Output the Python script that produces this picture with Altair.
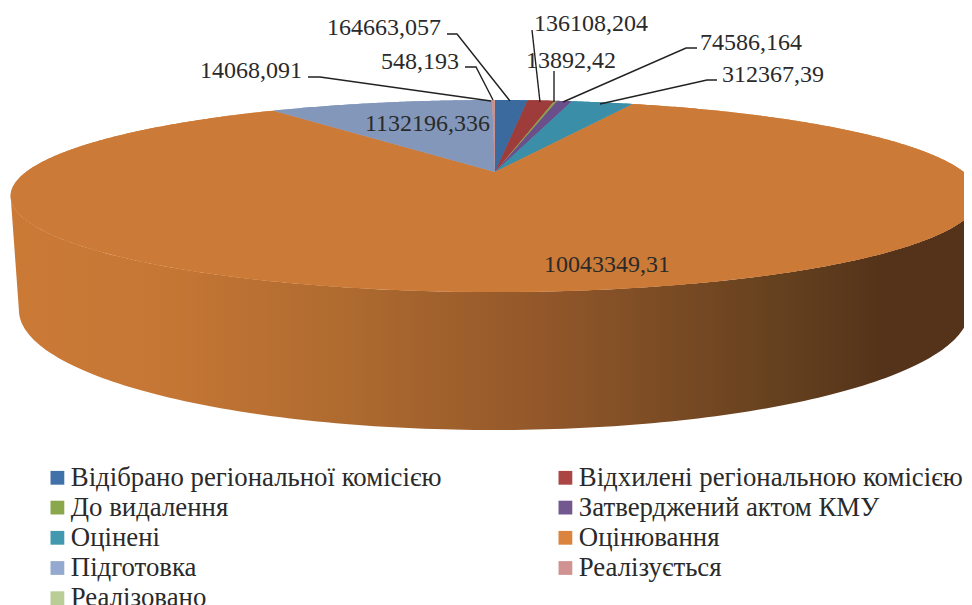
import math
import altair as alt

categories = ["Відібрано регіональної комісією", "Відхилені регіональною комісією", "До видалення",
              "Затверджений актом КМУ", "Оцінені", "Оцінювання", "Підготовка", "Реалізується", "Реалізовано"]
values = [164663.057, 136108.204, 13892.42, 74586.164, 312367.39, 10043349.31, 1132196.336, 14068.091, 548.193]
value_labels = ["164663,057", "136108,204", "13892,42", "74586,164", "312367,39", "10043349,31",
                "1132196,336", "14068,091", "548,193"]
legend_colors = ["#4071a8", "#aa4644", "#8aa84b", "#71588f", "#4198af", "#db843d", "#93a9cf", "#d19392", "#b9cd96"]
top_colors = ["#3a6a9e", "#9d3c3a", "#8aa24a", "#6b4f8a", "#3a8ea8", "#cb7a37", "#8397bb", "#cf8c8c", "#b8cf93"]

# layout of the labels (page pixels): anchor x, centre y, alignment; leader elbows
label_x = [441, 534, 526, 700, 722, 544, 365, 302, 459]
label_y = [28, 24, 61, 43, 75, 265, 124, 71, 62]
label_align = ["right", "left", "left", "left", "left", "left", "left", "right", "right"]
leader_paths = [[(447, 34), (457, 34), (510, 101)], [(532, 30), (540, 102)], [(554, 71), (554, 102)],
                [(697, 48), (686, 48), (563, 102)], [(717, 80), (707, 80), (600, 104)], None, None,
                [(308, 77), (320, 77), (491, 101)], [(465, 67), (476, 67), (493, 100)]]

OX, OY = 8, 8
P = 0.25


def rim(theta, cx, cy, a, b):
    d = 1 + P * math.cos(theta)
    return [cx + b * math.sin(theta) / d - OX, cy - a * math.cos(theta) / d - OY]


def top(theta):
    return rim(theta, 495, 172, 90, 469)


def bottom(theta):
    return rim(theta, 494, 280, 112.5, 460)


total = sum(values)
slices, start = [], 0.0
for name, v in zip(categories, values):
    t0 = start / total * 2 * math.pi
    start += v
    t1 = start / total * 2 * math.pi
    n = max(2, int((t1 - t0) * 120))
    ring = [[495 - OX, 172 - OY]] + [top(t0 + (t1 - t0) * i / n) for i in range(n + 1)] + [[495 - OX, 172 - OY]]
    slices.append({"type": "Feature", "properties": {"name": name}, "geometry": {"type": "Polygon", "coordinates": [ring]}})

te = math.acos(-P)
steps = 160
front = [te + (2 * math.pi - 2 * te) * i / steps for i in range(steps + 1)]
wall_ring = [top(t) for t in front] + [bottom(t) for t in reversed(front)]
wall_ring.append(wall_ring[0])
wall = [{"type": "Feature", "properties": {"name": "wall"}, "geometry": {"type": "Polygon", "coordinates": [wall_ring]}}]

leaders = [{"type": "Feature", "properties": {"name": c},
            "geometry": {"type": "LineString", "coordinates": [[x - OX, y - OY] for x, y in p]}}
           for c, p in zip(categories, leader_paths) if p]


def geo(features):
    return alt.Data(values={"type": "FeatureCollection", "features": features},
                    format=alt.DataFormat(type="json", property="features"))


proj = dict(type="identity", scale=1, translate=[0, 0])
FONT = "Liberation Serif"

wall_layer = alt.Chart(geo(wall)).mark_geoshape(
    strokeWidth=0,
    fill=alt.LinearGradient(gradient="linear", x1=0, x2=1, y1=0, y2=0, stops=[
        alt.GradientStop(offset=0, color="#cb7a36"), alt.GradientStop(offset=0.15, color="#c67735"),
        alt.GradientStop(offset=0.35, color="#ae6a2f"), alt.GradientStop(offset=0.55, color="#92572a"),
        alt.GradientStop(offset=0.8, color="#64401e"), alt.GradientStop(offset=0.9, color="#54331a"),
        alt.GradientStop(offset=1, color="#54331a")])
).project(**proj)

legend_layer = alt.Chart(geo(slices)).mark_geoshape(strokeWidth=0).encode(
    color=alt.Color("properties.name:N",
                    scale=alt.Scale(domain=categories, range=legend_colors),
                    sort=categories,
                    legend=alt.Legend(title=None, orient="none", legendX=36, legendY=456, columns=2,
                                      direction="horizontal",
                                      symbolType="square", symbolSize=190, symbolStrokeWidth=0,
                                      labelFont=FONT, labelFontSize=26.8, labelColor="#2a2a2a",
                                      labelLimit=500, labelOffset=0, rowPadding=2.2, columnPadding=110,
                                      padding=0, symbolOpacity=1))
).project(**proj)

top_layer = alt.Chart(geo(slices)).mark_geoshape(strokeWidth=0).encode(
    fill=alt.Fill("properties.name:N", scale=alt.Scale(domain=categories, range=top_colors), legend=None)
).project(**proj)

leader_layer = alt.Chart(geo(leaders)).mark_geoshape(filled=False, stroke="#222222", strokeWidth=1.4).project(**proj)

label_rows = [{"label": l, "px": x - OX, "py": y - OY, "al": a}
              for l, x, y, a in zip(value_labels, label_x, label_y, label_align)]
text_base = alt.Chart(alt.Data(values=label_rows))
text_layers = [
    text_base.transform_filter(alt.datum.al == a).mark_text(
        font=FONT, fontSize=24, color="#2a2a2a", align=a, baseline="middle"
    ).encode(x=alt.X("px:Q", scale=None, axis=None), y=alt.Y("py:Q", scale=None, axis=None), text="label:N")
    for a in ["left", "right"]
]

chart = alt.layer(wall_layer, legend_layer, top_layer, leader_layer, *text_layers).properties(
    width=956, height=597, padding=0, autosize=alt.AutoSizeParams(type="none"), background="white"
).configure_view(stroke=None)

chart.save("out.html", embed_options={"renderer": "svg", "actions": False})
